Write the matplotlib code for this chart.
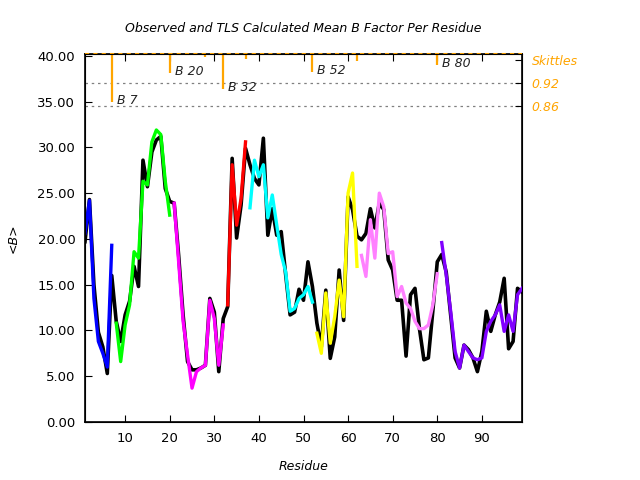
import numpy as np
import matplotlib
matplotlib.use("Agg")
import matplotlib.pyplot as plt

# observed mean B per residue (black)
residues = np.arange(1, 100)
observed_b = [
    19.7, 24.3, 15.0, 9.8, 8.2, 5.3, 16.0, 11.0, 8.8, 11.7,
    13.2, 17.0, 14.8, 28.6, 25.7, 29.5, 30.8, 31.2, 25.5, 24.1,
    23.9, 18.2, 11.7, 6.6, 5.7, 5.7, 5.9, 6.2, 13.5, 12.0,
    5.5, 11.3, 12.6, 28.8, 20.1, 23.7, 29.9, 28.1, 26.6, 25.9,
    31.0, 20.4, 23.3, 20.4, 20.8, 16.1, 11.7, 12.0, 14.5, 13.3,
    17.5, 14.8, 10.8, 8.2, 14.4, 6.95, 9.3, 16.6, 11.1, 24.6,
    23.2, 20.3, 19.9, 20.6, 23.3, 21.2, 23.9, 23.2, 17.7, 16.6,
    13.3, 13.3, 7.2, 13.9, 14.6, 10.2, 6.8, 7.0, 12.1, 17.5,
    18.3, 16.4, 11.7, 7.0, 5.9, 8.4, 7.9, 7.0, 5.5, 7.7,
    12.1, 9.9, 11.7, 13.1, 15.7, 8.0, 8.8, 14.6, 14.2,
]

# TLS calculated mean B, one segment per TLS group
tls_starts = [1, 8, 21, 33, 38, 53, 63, 81]
tls_colors = ["#0000ff", "#00ff00", "#ff00ff", "#ff0000",
              "#00ffff", "#ffff00", "#ff80ff", "#8000ff"]
tls_values = [
    [20.6, 24.2, 13.5, 8.8, 7.5, 6.0, 19.3],
    [10.8, 6.6, 10.6, 12.8, 18.6, 17.9, 26.3, 25.9, 30.6, 31.9, 31.4, 26.3, 22.6],
    [23.9, 17.5, 11.0, 7.3, 3.7, 5.5, 5.9, 6.2, 13.3, 11.3, 6.2, 10.6],
    [12.8, 28.1, 21.5, 24.4, 30.6],
    [23.4, 28.6, 26.8, 28.1, 22.3, 24.8, 21.5, 18.3, 16.4, 12.1, 12.4, 13.5, 13.9, 14.8, 13.1],
    [9.7, 7.5, 14.1, 8.6, 11.5, 15.5, 11.5, 25.0, 27.2, 17.0],
    [18.2, 15.9, 22.1, 17.9, 25.0, 23.5, 18.4, 18.6, 13.7, 14.8, 13.0, 12.4,
     11.0, 10.2, 10.2, 10.6, 12.8, 16.2],
    [19.6, 16.1, 12.1, 7.7, 5.9, 8.4, 7.7, 7.0, 6.8, 7.0, 9.9, 11.0, 11.7,
     12.8, 9.9, 11.7, 9.9, 13.9, 14.6],
]

# skittles
skittle_res = [5, 6, 7, 20, 22, 23, 24, 28, 32, 34, 37, 52, 62, 80]
skittle_val = [0.993, 0.993, 0.870, 0.946, 0.993, 0.993, 0.993, 0.988,
               0.904, 0.993, 0.983, 0.949, 0.977, 0.967]
labelled_res = [7, 20, 32, 52, 80]
labelled_val = [0.870, 0.946, 0.904, 0.949, 0.967]
labelled_txt = ["B 7", "B 20", "B 32", "B 52", "B 80"]

orange = "#ffa500"

fig = plt.figure(figsize=(6.4, 4.8), dpi=100)
ax = fig.add_axes([85 / 640, 1 - 422 / 480, (522 - 85) / 640, (422 - 54) / 480])

ax.plot(residues, observed_b, color="black", lw=2.6, zorder=2)
for start, vals, col in zip(tls_starts, tls_values, tls_colors):
    xs = np.arange(start, start + len(vals))
    ax.plot(xs, vals, color=col, lw=2.4, zorder=3)

ax.set_xlim(1, 99)
ax.set_ylim(0, 40.2)
ax.set_xticks(range(10, 100, 10))
ax.set_yticks(range(0, 41, 5))
ax.set_yticklabels([f"{v:.2f}" for v in range(0, 41, 5)])
ax.tick_params(direction="in", top=True, right=True, length=5, labelsize=9.5)
ax.tick_params(axis="x", pad=7)
ax.tick_params(axis="y", pad=7)
for s in ax.spines.values():
    s.set_linewidth(1.2)

ax.set_title("Observed and TLS Calculated Mean B Factor Per Residue",
             fontsize=9, style="italic", pad=16)
ax.set_xlabel("Residue", fontsize=9, style="italic", labelpad=11)
ax.set_ylabel("<B>", fontsize=9, style="italic", labelpad=13)

ax2 = ax.twinx()
ax2.set_ylim(0.0356, 0.9957)
ax2.set_yticks([0.98, 0.92, 0.86])
ax2.set_yticklabels(["Skittles", "0.92", "0.86"], color=orange,
                    style="italic", fontsize=9)
ax2.tick_params(direction="in", length=5, pad=7)
for v in [0.92, 0.86]:
    ax2.axhline(v, color="gray", ls=(0, (2, 3)), lw=0.9, zorder=1)
ax2.axhline(0.9957, color=orange, ls=(0, (2, 2)), lw=1.5, clip_on=False)
ax2.vlines(skittle_res, skittle_val, 0.9957, color=orange, lw=1.6)
for r, v, t in zip(labelled_res, labelled_val, labelled_txt):
    ax2.text(r + 1.1, v + 0.004, t, fontsize=9, style="italic",
             va="center", ha="left", color="#222222")

fig.savefig("out.png", dpi=100)
